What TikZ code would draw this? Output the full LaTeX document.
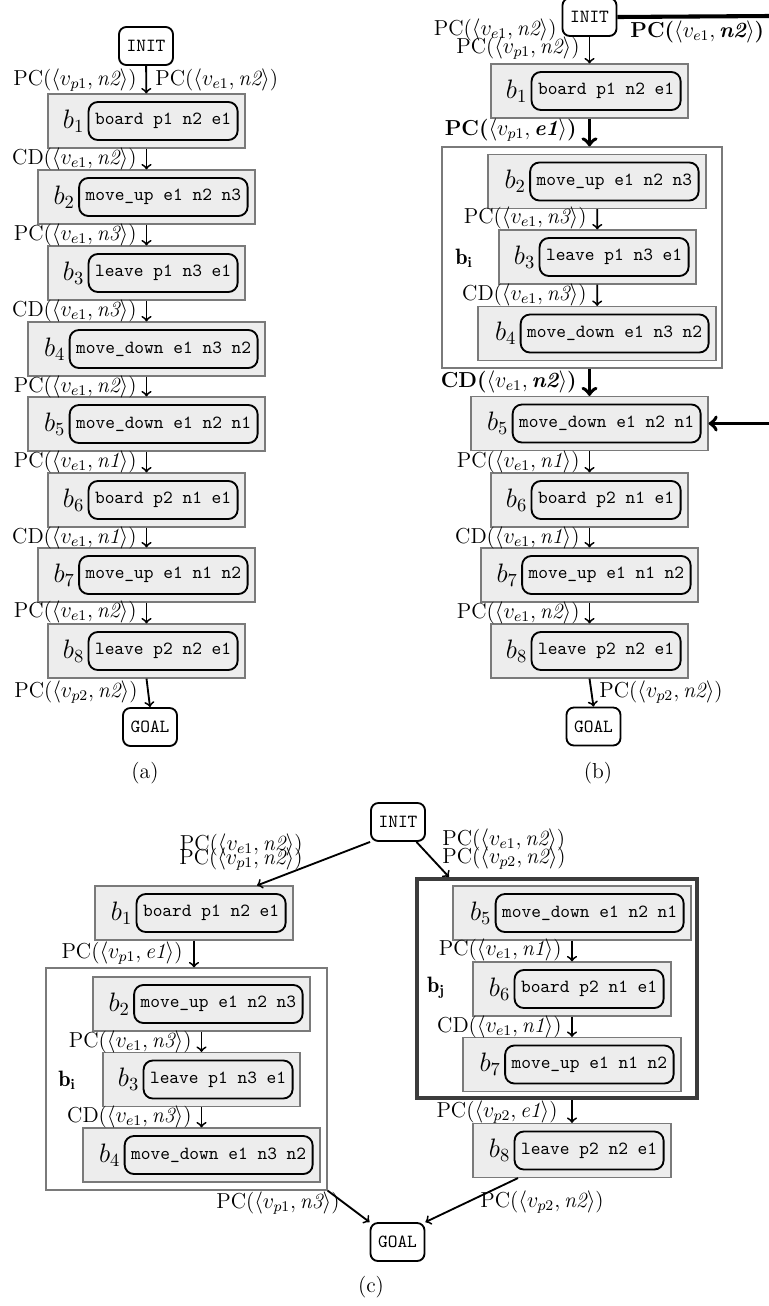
\documentclass[tikz,border=0pt]{standalone}
\usepackage{fontspec}
\usetikzlibrary{calc}
\def\pxu{0.54pt}
\definecolor{boxfill}{HTML}{EDEDED}
\definecolor{boxline}{HTML}{7A7A7A}
\definecolor{bjline}{HTML}{3C3C3C}
\tikzset{
  outerbox/.style={draw=boxline, fill=boxfill, line width=0.6pt, minimum height=54*\pxu, inner sep=0},
  actbox/.style={draw=black, fill=boxfill, line width=1pt, rounded corners=5pt, minimum height=38*\pxu, inner xsep=3.5pt, inner ysep=0, font=\ttfamily},
  term/.style={draw=black, fill=white, line width=1pt, rounded corners=4pt, minimum height=38*\pxu, minimum width=54*\pxu, inner sep=0, font=\ttfamily},
  groupbox/.style={draw=boxline, fill=white, line width=0.6pt, inner sep=0},
  blab/.style={inner sep=0, font=\Large},
  blabg/.style={inner sep=0, font=\large},
  lab/.style={inner sep=0, font=\fontsize{11.7}{13}\selectfont},
  arr/.style={->, line width=1pt},
  thk/.style={->, line width=2pt},
  thkline/.style={line width=2.2pt},
}
\newcommand{\mkblock}[6]{%
  \node[outerbox, minimum width=#4*\pxu] (#1) at (#2,#3) {};
  \node[actbox, anchor=east] (#1a) at ([xshift=-7*\pxu]#1.east) {#6};
  \node[blab, anchor=east] (#1l) at ([xshift=-3*\pxu]#1a.west) {$b_{#5}$};
}
\newcommand{\pcv}[3]{#1($\langle v_{#2}, \textit{#3}\rangle$)}
\begin{document}
\begin{tikzpicture}[x=0.54pt, y=-0.54pt]
\useasboundingbox (0,0) rectangle (769,1306);
% ---------------- (a)
\node[term] (aI) at (146,46) {INIT};
\mkblock{ab1}{146.5}{121}{197}{1}{board p1 n2 e1}
\mkblock{ab2}{146.5}{197}{217}{2}{move\_up e1 n2 n3}
\mkblock{ab3}{146.5}{273}{197}{3}{leave p1 n3 e1}
\mkblock{ab4}{146.5}{349}{237}{4}{move\_down e1 n3 n2}
\mkblock{ab5}{146.5}{424}{237}{5}{move\_down e1 n2 n1}
\mkblock{ab6}{146.5}{500}{197}{6}{board p2 n1 e1}
\mkblock{ab7}{146.5}{575}{217}{7}{move\_up e1 n1 n2}
\mkblock{ab8}{146.5}{651}{197}{8}{leave p2 n2 e1}
\node[term] (aG) at (150,727) {GOAL};
\draw[arr] (aI) -- (ab1);
\draw[arr] (ab1) -- (ab2);
\draw[arr] (ab2) -- (ab3);
\draw[arr] (ab3) -- (ab4);
\draw[arr] (ab4) -- (ab5);
\draw[arr] (ab5) -- (ab6);
\draw[arr] (ab6) -- (ab7);
\draw[arr] (ab7) -- (ab8);
\draw[arr] (ab8.south) -- (aG.north);
\node[lab, anchor=east] (aL1) at (137,80) {\pcv{PC}{p1}{n2}};
\node[lab, anchor=west] (aL2) at (155,80) {\pcv{PC}{e1}{n2}};
\node[lab, anchor=east] (aL3) at (137,159) {\pcv{CD}{e1}{n2}};
\node[lab, anchor=east] (aL4) at (137,235) {\pcv{PC}{e1}{n3}};
\node[lab, anchor=east] (aL5) at (137,311) {\pcv{CD}{e1}{n3}};
\node[lab, anchor=east] (aL6) at (137,387) {\pcv{PC}{e1}{n2}};
\node[lab, anchor=east] (aL7) at (137,462) {\pcv{PC}{e1}{n1}};
\node[lab, anchor=east] (aL8) at (137,538) {\pcv{CD}{e1}{n1}};
\node[lab, anchor=east] (aL9) at (137,612) {\pcv{PC}{e1}{n2}};
\node[lab, anchor=east] (aL10) at (138,692) {\pcv{PC}{p2}{n2}};
\node[lab] (acap) at (145,773) {(a)};
% ---------------- (b)
\node[groupbox, minimum width=280*\pxu, minimum height=221*\pxu] (bbi) at (582,257.5) {};
\node[term] (bI) at (589.5,17) {INIT};
\mkblock{bb1}{589.5}{91}{197}{1}{board p1 n2 e1}
\mkblock{bb2}{597}{181.5}{218}{2}{move\_up e1 n2 n3}
\mkblock{bb3}{597.5}{257}{197}{3}{leave p1 n3 e1}
\mkblock{bb4}{597}{333.5}{238}{4}{move\_down e1 n3 n2}
\mkblock{bb5}{589.5}{423.5}{237}{5}{move\_down e1 n2 n1}
\mkblock{bb6}{589.5}{500}{197}{6}{board p2 n1 e1}
\mkblock{bb7}{589.5}{575}{217}{7}{move\_up e1 n1 n2}
\mkblock{bb8}{589.5}{651}{197}{8}{leave p2 n2 e1}
\node[term] (bG) at (593.5,726.5) {GOAL};
\node[blabg] (bbil) at (464,258) {$\mathbf{b_i}$};
\coordinate (bR) at (769,16);
\coordinate (bR5) at (769,423.5);
\draw[thkline] (bI.east) -- (bR);
\draw[thk] (bR5) -- (bb5.east);
\draw[arr] (bI) -- (bb1);
\draw[thk] (bb1.south) -- (bb1.south |- bbi.north);
\draw[arr] (bb2) -- (bb3);
\draw[arr] (bb3) -- (bb4);
\draw[thk] (bbi.south -| bb5.north) -- (bb5.north);
\draw[arr] (bb5) -- (bb6);
\draw[arr] (bb6) -- (bb7);
\draw[arr] (bb7) -- (bb8);
\draw[arr] (bb8.south) -- (bG.north);
\node[lab, anchor=east] (bL1) at (557,30) {\pcv{PC}{e1}{n2}};
\node[lab, anchor=east] (bL2) at (580,48) {\pcv{PC}{p1}{n2}};
\node[lab, anchor=west] (bL3) at (630,32) {\textbf{\pcv{PC}{e1}{n2}}};
\node[lab, anchor=east] (bL4) at (577,130) {\textbf{\pcv{PC}{p1}{e1}}};
\node[lab, anchor=east] (bL5) at (587,218) {\pcv{PC}{e1}{n3}};
\node[lab, anchor=east] (bL6) at (587,295) {\pcv{CD}{e1}{n3}};
\node[lab, anchor=east] (bL7) at (577,382) {\textbf{\pcv{CD}{e1}{n2}}};
\node[lab, anchor=east] (bL8) at (580,462) {\pcv{PC}{e1}{n1}};
\node[lab, anchor=east] (bL9) at (580,538) {\pcv{CD}{e1}{n1}};
\node[lab, anchor=east] (bL10) at (580,613) {\pcv{PC}{e1}{n2}};
\node[lab, anchor=west] (bL11) at (599,692) {\pcv{PC}{p2}{n2}};
\node[lab] (bcap) at (598,773) {(b)};
% ---------------- (c)
\node[groupbox, minimum width=281*\pxu, minimum height=222*\pxu] (cbi) at (186.5,1079) {};
\node[groupbox, draw=bjline, line width=2.2pt, minimum width=280*\pxu, minimum height=219*\pxu] (cbj) at (557,988.5) {};
\node[term] (cI) at (398,822) {INIT};
\mkblock{cb1}{194}{913}{198}{1}{board p1 n2 e1}
\mkblock{cb2}{201.5}{1004}{217}{2}{move\_up e1 n2 n3}
\mkblock{cb3}{201.5}{1079.5}{197}{3}{leave p1 n3 e1}
\mkblock{cb4}{201.5}{1155}{237}{4}{move\_down e1 n3 n2}
\mkblock{cb5}{572}{913}{238}{5}{move\_down e1 n2 n1}
\mkblock{cb6}{572}{989}{198}{6}{board p2 n1 e1}
\mkblock{cb7}{572}{1064.5}{218}{7}{move\_up e1 n1 n2}
\mkblock{cb8}{572}{1150.5}{198}{8}{leave p2 n2 e1}
\node[term] (cG) at (397.5,1242) {GOAL};
\node[blabg] (cbil) at (67,1080) {$\mathbf{b_i}$};
\node[blabg] (cbjl) at (436,988) {$\mathbf{b_j}$};
\draw[arr] (cI.south west) -- ([xshift=63*\pxu]cb1.north);
\draw[arr] (cI) -- ([xshift=34*\pxu]cbj.north west);
\draw[arr] (cb1.south) -- (cb1.south |- cbi.north);
\draw[arr] (cb2) -- (cb3);
\draw[arr] (cb3) -- (cb4);
\draw[arr] (cbi.south east) -- (cG.north west);
\draw[arr] (cb5) -- (cb6);
\draw[arr] (cb6) -- (cb7);
\draw[arr] (cb8.north |- cbj.south) -- (cb8.north);
\draw[arr] ([xshift=-54*\pxu]cb8.south) -- (cG.north east);
\node[lab, anchor=east] (cL1) at (303,845) {\pcv{PC}{e1}{n2}};
\node[lab, anchor=east] (cL2) at (303,859) {\pcv{PC}{p1}{n2}};
\node[lab, anchor=west] (cL3) at (442,840) {\pcv{PC}{e1}{n2}};
\node[lab, anchor=west] (cL4) at (442,858) {\pcv{PC}{p2}{n2}};
\node[lab, anchor=east] (cL5) at (183,953) {\pcv{PC}{p1}{e1}};
\node[lab, anchor=east] (cL6) at (192,1042) {\pcv{PC}{e1}{n3}};
\node[lab, anchor=east] (cL7) at (192,1117) {\pcv{CD}{e1}{n3}};
\node[lab, anchor=east] (cL8) at (340,1203) {\pcv{PC}{p1}{n3}};
\node[lab, anchor=east] (cL9) at (562,950) {\pcv{PC}{e1}{n1}};
\node[lab, anchor=east] (cL10) at (562,1027) {\pcv{CD}{e1}{n1}};
\node[lab, anchor=east] (cL11) at (558,1112) {\pcv{PC}{p2}{e1}};
\node[lab, anchor=west] (cL12) at (480,1202) {\pcv{PC}{p2}{n2}};
\node[lab] (ccap) at (371,1287) {(c)};
\end{tikzpicture}
\end{document}
